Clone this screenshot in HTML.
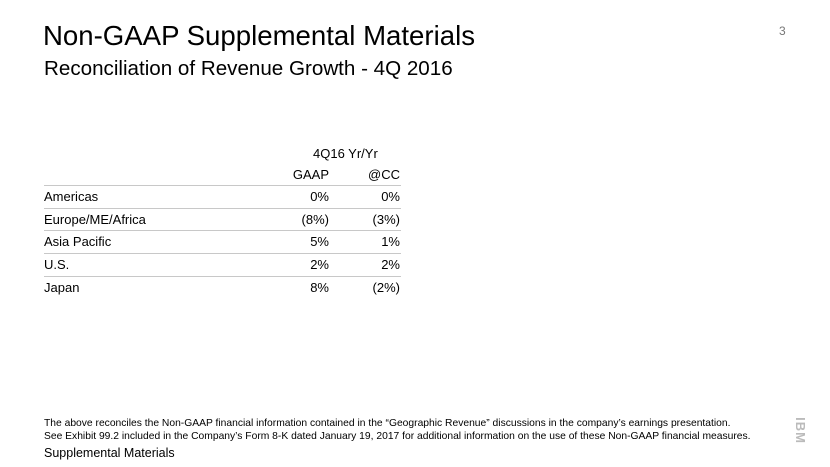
<!DOCTYPE html>
<html><head><meta charset="utf-8"><style>
body{margin:0;width:830px;height:467px;background:#fff;font-family:"Liberation Sans",Arial,sans-serif;color:#000;position:relative;overflow:hidden}
.a{position:absolute;white-space:nowrap}
.line{position:absolute;left:44px;width:357px;height:1px;background:#c8c8c8}
.r{position:absolute;font-size:13px;text-align:right;width:80px}
</style></head><body>
<div class="a" style="left:43px;top:20px;font-size:27.6px">Non-GAAP Supplemental Materials</div>
<div class="a" style="left:44px;top:57px;font-size:20.6px">Reconciliation of Revenue Growth - 4Q 2016</div>
<div class="a" style="left:779px;top:24px;font-size:12px;color:#777">3</div>
<div class="a" style="left:313px;top:146px;font-size:13px">4Q16 Yr/Yr</div>
<div class="r" style="left:249px;top:167px">GAAP</div>
<div class="r" style="left:320px;top:167px">@CC</div>
<div id="tbl"></div>
<div class="a" style="left:44px;top:417px;font-size:10.3px;line-height:13px">The above reconciles the Non-GAAP financial information contained in the “Geographic Revenue” discussions in the company’s earnings presentation.<br>See Exhibit 99.2 included in the Company’s Form 8-K dated January 19, 2017 for additional information on the use of these Non-GAAP financial measures.</div>
<div class="a" style="left:44px;top:446px;font-size:12.5px">Supplemental Materials</div>
<div class="a" style="left:787px;top:423px;font-size:13px;font-weight:bold;color:#bbb;transform:rotate(90deg);letter-spacing:1px">IBM</div>
<script>
const regions=["Americas","Europe/ME/Africa","Asia Pacific","U.S.","Japan"];
const gaap=["0%","(8%)","5%","2%","8%"];
const cc=["0%","(3%)","1%","2%","(2%)"];
const t=document.getElementById('tbl');
regions.forEach((n,i)=>{
 const top=186+i*22.7;
 const ln=document.createElement('div');ln.className='line';ln.style.top=(top-1)+'px';
 
 
 t.appendChild(ln);
 const a=document.createElement('div');a.className='a';a.style.cssText='left:44px;font-size:13px;top:'+(top+3)+'px';a.textContent=n;
 
 
 t.appendChild(a);
 const g=document.createElement('div');g.className='r';g.style.left='249px';g.style.top=(top+3)+'px';g.textContent=gaap[i];
 
 
 t.appendChild(g);
 const c=document.createElement('div');c.className='r';c.style.left='320px';c.style.top=(top+3)+'px';c.textContent=cc[i];
 
 
 t.appendChild(c);
});
</script>
</body></html>
